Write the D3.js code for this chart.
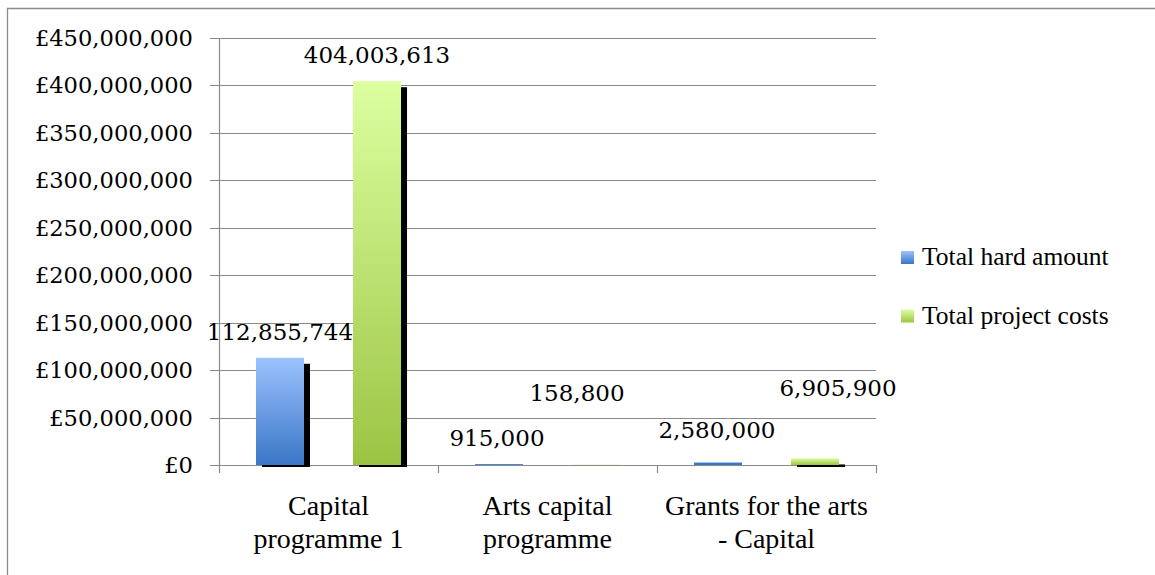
<!DOCTYPE html>
<html>
<head>
<meta charset="utf-8">
<script src="https://cdn.jsdelivr.net/npm/d3@7"></script>
<style>
  html, body { margin: 0; padding: 0; background: #fff; }
  svg { display: block; }
</style>
</head>
<body>
<svg id="chart" width="1155" height="575"></svg>
<script>
// Data
const categories = [["Capital", "programme 1"], ["Arts capital", "programme"], ["Grants for the arts", "- Capital"]];
const seriesNames = ["Total hard amount", "Total project costs"];
const hardAmount = [112855744, 915000, 2580000];
const projectCosts = [404003613, 158800, 6905900];
const yTicks = [0, 50e6, 100e6, 150e6, 200e6, 250e6, 300e6, 350e6, 400e6, 450e6];

// Hand-placed value labels: [dx, lift above bar top] per category, per series
const labelPlacement = [
  [[0, 18], [0, 18]],
  [[-2, 18], [-19, 64]],
  [[-1, 25], [23, 62]]
];

const svg = d3.select("#chart");
const defs = svg.append("defs");

const plot = { left: 219, right: 876, top: 37.5, bottom: 465 };

const y = d3.scaleLinear().domain([0, 450e6]).range([plot.bottom, plot.top]);
const x0 = d3.scaleBand().domain(d3.range(categories.length)).range([plot.left, plot.right]).padding(0);
const x1 = d3.scaleBand().domain([0, 1]).range([0, x0.bandwidth()]).paddingInner(0.505).paddingOuter(0.381);

const colors = [
  { top: "#9cc2ff", bottom: "#3a76c6" },
  { top: "#dcffa0", bottom: "#9cc443" }
];
colors.forEach((c, i) => {
  const g = defs.append("linearGradient").attr("id", "grad" + i)
    .attr("x1", 0).attr("y1", 0).attr("x2", 0).attr("y2", 1);
  g.append("stop").attr("offset", "0%").attr("stop-color", c.top);
  g.append("stop").attr("offset", "100%").attr("stop-color", c.bottom);
});

defs.append("clipPath").attr("id", "shadowClip")
  .append("rect").attr("x", 0).attr("y", 0).attr("width", 1155).attr("height", plot.bottom + 2);

// Outer frame
svg.append("path")
  .attr("d", "M7.5,575 V8.5 H1155")
  .attr("fill", "none").attr("stroke", "#8c8c8c").attr("stroke-width", 1.3);

// Gridlines with left tick stubs
svg.append("g").selectAll("line").data(yTicks).join("line")
  .attr("x1", plot.left - 9).attr("x2", plot.right)
  .attr("y1", d => Math.round(y(d)) + 0.5).attr("y2", d => Math.round(y(d)) + 0.5)
  .attr("stroke", "#8a8a8a").attr("stroke-width", 1.2);

// Vertical axis line and category separators
svg.append("line")
  .attr("x1", plot.left + 0.5).attr("x2", plot.left + 0.5)
  .attr("y1", Math.round(plot.top)).attr("y2", plot.bottom + 8)
  .attr("stroke", "#8a8a8a").attr("stroke-width", 1.2);
svg.append("g").selectAll("line").data(d3.range(1, categories.length + 1)).join("line")
  .attr("x1", i => plot.left + i * x0.bandwidth() + 0.5)
  .attr("x2", i => plot.left + i * x0.bandwidth() + 0.5)
  .attr("y1", plot.bottom).attr("y2", plot.bottom + 8)
  .attr("stroke", "#8a8a8a").attr("stroke-width", 1.2);

// Y tick labels
svg.append("g").selectAll("text").data(yTicks).join("text")
  .attr("x", 193).attr("y", d => y(d)).attr("dy", "0.37em")
  .attr("text-anchor", "end")
  .attr("font-family", "DejaVu Serif").attr("font-size", 22.6).attr("fill", "#000")
  .text(d => "£" + d3.format(",")(d));

const series = [hardAmount, projectCosts];
const bars = [];
categories.forEach((c, ci) => {
  series.forEach((vals, si) => {
    bars.push({ ci, si, value: vals[ci] });
  });
});

const barX = d => x0(d.ci) + x1(d.si);
const barTop = d => y(d.value);

// Drop shadows
svg.append("g").attr("clip-path", "url(#shadowClip)").selectAll("rect").data(bars).join("rect")
  .attr("x", d => barX(d) + 6)
  .attr("y", d => barTop(d) + 6)
  .attr("width", x1.bandwidth())
  .attr("height", d => plot.bottom - barTop(d))
  .attr("fill", "#000");

// Bars
svg.append("g").selectAll("rect").data(bars).join("rect")
  .attr("x", barX)
  .attr("y", barTop)
  .attr("width", x1.bandwidth())
  .attr("height", d => plot.bottom - barTop(d))
  .attr("fill", d => d.value < 5e6 ? colors[d.si].bottom : `url(#grad${d.si})`);

// Value labels
svg.append("g").selectAll("text").data(bars).join("text")
  .attr("x", d => barX(d) + x1.bandwidth() / 2 + labelPlacement[d.ci][d.si][0])
  .attr("y", d => y(d.value) - labelPlacement[d.ci][d.si][1])
  .attr("text-anchor", "middle")
  .attr("font-family", "DejaVu Serif").attr("font-size", 23).attr("fill", "#000")
  .text(d => d3.format(",")(d.value));

// Category labels
const catG = svg.append("g").selectAll("text").data(categories).join("text")
  .attr("text-anchor", "middle")
  .attr("font-family", "Liberation Serif").attr("font-size", 28).attr("fill", "#000");
catG.selectAll("tspan").data((d, i) => d.map(line => ({ line, i }))).join("tspan")
  .attr("x", d => x0(d.i) + x0.bandwidth() / 2)
  .attr("y", (d, j) => 515 + j * 33)
  .text(d => d.line);

// Legend
const legend = svg.append("g").selectAll("g").data(seriesNames).join("g")
  .attr("transform", (d, i) => `translate(901, ${251 + i * 58.5})`);
legend.append("rect").attr("width", 13).attr("height", 13)
  .attr("fill", (d, i) => `url(#grad${i})`);
legend.append("text").attr("x", 21).attr("y", 14)
  .attr("font-family", "Liberation Serif").attr("font-size", 25.5).attr("fill", "#000")
  .text(d => d);
</script>
</body>
</html>
